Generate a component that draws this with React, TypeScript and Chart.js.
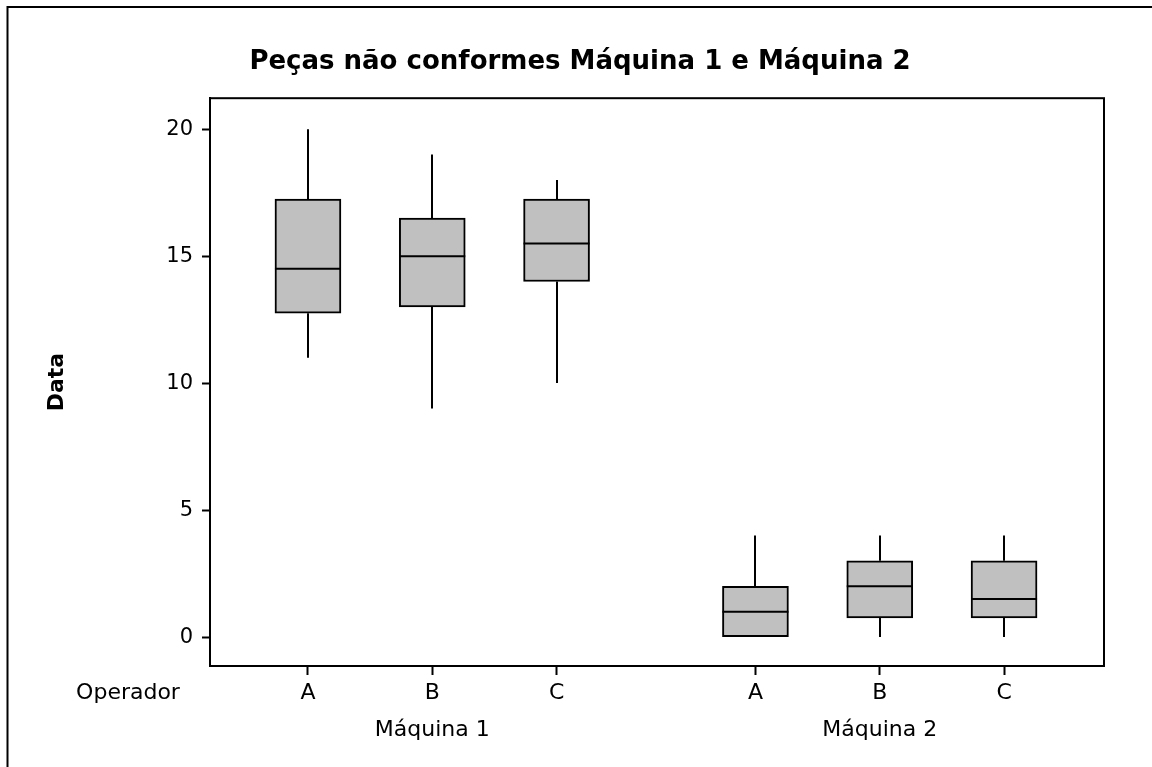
import React, { useEffect, useRef } from "react";
import { Chart, registerables } from "chart.js";

Chart.register(...registerables);

// ---- data ----
const operators = ["A", "B", "C", "A", "B", "C"];
const machines = ["Máquina 1", "Máquina 2"];
const machineOfBox = [0, 0, 0, 1, 1, 1];
const positions = [0, 1, 2, 3.6, 4.6, 5.6];
const whiskerLow = [11, 9, 10, 0, 0, 0];
const q1 = [12.75, 13, 14, 0, 0.75, 0.75];
const median = [14.5, 15, 15.5, 1, 2, 1.5];
const q3 = [17.25, 16.5, 17.25, 2, 3, 3];
const whiskerHigh = [20, 19, 18, 4, 4, 4];
const yTicks = [0, 5, 10, 15, 20];
const titleText = "Peças não conformes Máquina 1 e Máquina 2";
const yTitle = "Data";
const rowLabel = "Operador";

const FONT = "'DejaVu Sans', Verdana, sans-serif";

function xLabel(i: number): string[] {
  // machine name centered under middle operator of each group
  const isMiddle = i === 1 || i === 4;
  return [operators[i], isMiddle ? machines[machineOfBox[i]] : " "];
}

const boxPlugin = {
  id: "boxParts",
  beforeDatasetsDraw(chart: any) {
    const { ctx } = chart;
    const xs = chart.scales.x;
    const ys = chart.scales.y;
    ctx.save();
    ctx.strokeStyle = "#000";
    ctx.lineWidth = 2;
    for (let i = 0; i < positions.length; i++) {
      const x = Math.round(xs.getPixelForValue(positions[i]));
      ctx.beginPath();
      if (whiskerHigh[i] > q3[i]) {
        ctx.moveTo(x, ys.getPixelForValue(q3[i]));
        ctx.lineTo(x, ys.getPixelForValue(whiskerHigh[i]));
      }
      if (whiskerLow[i] < q1[i]) {
        ctx.moveTo(x, ys.getPixelForValue(q1[i]));
        ctx.lineTo(x, ys.getPixelForValue(whiskerLow[i]));
      }
      ctx.stroke();
    }
    ctx.restore();
  },
  afterDatasetsDraw(chart: any) {
    const { ctx } = chart;
    const ys = chart.scales.y;
    const meta = chart.getDatasetMeta(0);
    ctx.save();
    ctx.strokeStyle = "#000";
    ctx.lineWidth = 2;
    meta.data.forEach((el: any, i: number) => {
      const y = ys.getPixelForValue(median[i]);
      ctx.beginPath();
      ctx.moveTo(el.x - el.width / 2, y);
      ctx.lineTo(el.x + el.width / 2, y);
      ctx.stroke();
    });
    ctx.restore();
  },
  afterDraw(chart: any) {
    const { ctx, chartArea } = chart;
    ctx.save();
    ctx.strokeStyle = "#000";
    ctx.lineWidth = 2;
    // plot frame
    ctx.strokeRect(
      chartArea.left,
      chartArea.top,
      chartArea.right - chartArea.left,
      chartArea.bottom - chartArea.top
    );
    // outer (cropped) frame
    ctx.beginPath();
    ctx.moveTo(7.5, chart.height);
    ctx.lineTo(7.5, 7);
    ctx.lineTo(chart.width, 7);
    ctx.stroke();
    // row label for operators
    const xs = chart.scales.x;
    ctx.fillStyle = "#000";
    ctx.font = `22px ${FONT}`;
    ctx.textAlign = "center";
    ctx.textBaseline = "middle";
    ctx.fillText(rowLabel, 128, xs.top + 9 + 18.5);
    ctx.restore();
  },
};

export default function App() {
  const canvasRef = useRef<HTMLCanvasElement | null>(null);

  useEffect(() => {
    const canvas = canvasRef.current;
    if (!canvas) return;
    const chart = new Chart(canvas, {
      type: "bar",
      data: {
        datasets: [
          {
            data: positions.map((p, i) => ({ x: p, y: [q1[i], q3[i]] })) as any,
            backgroundColor: "#c0c0c0",
            borderColor: "#000",
            borderWidth: 2,
            borderSkipped: false,
            barThickness: 66,
          },
        ],
      },
      options: {
        animation: false,
        responsive: false,
        devicePixelRatio: 1,
        layout: { padding: { left: 8, right: 0, top: 0, bottom: 0 } },
        plugins: {
          legend: { display: false },
          tooltip: { enabled: false },
          title: {
            display: true,
            text: titleText,
            color: "#000",
            font: { family: FONT, size: 26, weight: "bold", lineHeight: 1.2 },
            padding: { top: 47, bottom: 20 },
          },
        },
        scales: {
          x: {
            type: "linear",
            offset: false,
            min: -0.788,
            max: 6.404,
            afterBuildTicks: (scale: any) => {
              scale.ticks = positions.map((v) => ({ value: v }));
            },
            afterFit: (scale: any) => {
              scale.height = 101;
            },
            ticks: {
              autoSkip: false,
              maxRotation: 0,
              padding: 0,
              color: "#000",
              font: { family: FONT, size: 22, lineHeight: 1.68 },
              callback: (_v: any, i: number) => xLabel(i),
            },
            grid: {
              display: true,
              offset: false,
              drawOnChartArea: false,
              drawTicks: true,
              tickLength: 9,
              tickWidth: 2,
              tickColor: "#000",
            },
            border: { display: true, color: "#000", width: 2 },
          },
          y: {
            type: "linear",
            position: "left",
            min: -1.14,
            max: 21.22,
            afterBuildTicks: (scale: any) => {
              scale.ticks = yTicks.map((v) => ({ value: v }));
            },
            afterFit: (scale: any) => {
              scale.width = 202;
            },
            ticks: {
              padding: 9,
              color: "#000",
              font: { family: FONT, size: 21 },
            },
            grid: {
              display: true,
              drawOnChartArea: false,
              drawTicks: true,
              tickLength: 8,
              tickWidth: 2,
              tickColor: "#000",
            },
            border: { display: true, color: "#000", width: 2 },
            title: {
              display: true,
              text: yTitle,
              color: "#000",
              font: { family: FONT, size: 22, weight: "bold", lineHeight: 1.2 },
              padding: { top: 36, bottom: 0 },
            },
          },
          y2: {
            type: "linear",
            position: "right",
            display: true,
            afterFit: (scale: any) => {
              scale.width = 48;
            },
            ticks: { display: false },
            grid: { display: false },
            border: { display: false },
          },
        },
      } as any,
      plugins: [boxPlugin],
    });
    return () => chart.destroy();
  }, []);

  return (
    <div style={{ position: "absolute", left: 0, top: 0, width: 1152, height: 767, background: "#fff" }}>
      <canvas ref={canvasRef} width={1152} height={767} style={{ display: "block" }} />
    </div>
  );
}
